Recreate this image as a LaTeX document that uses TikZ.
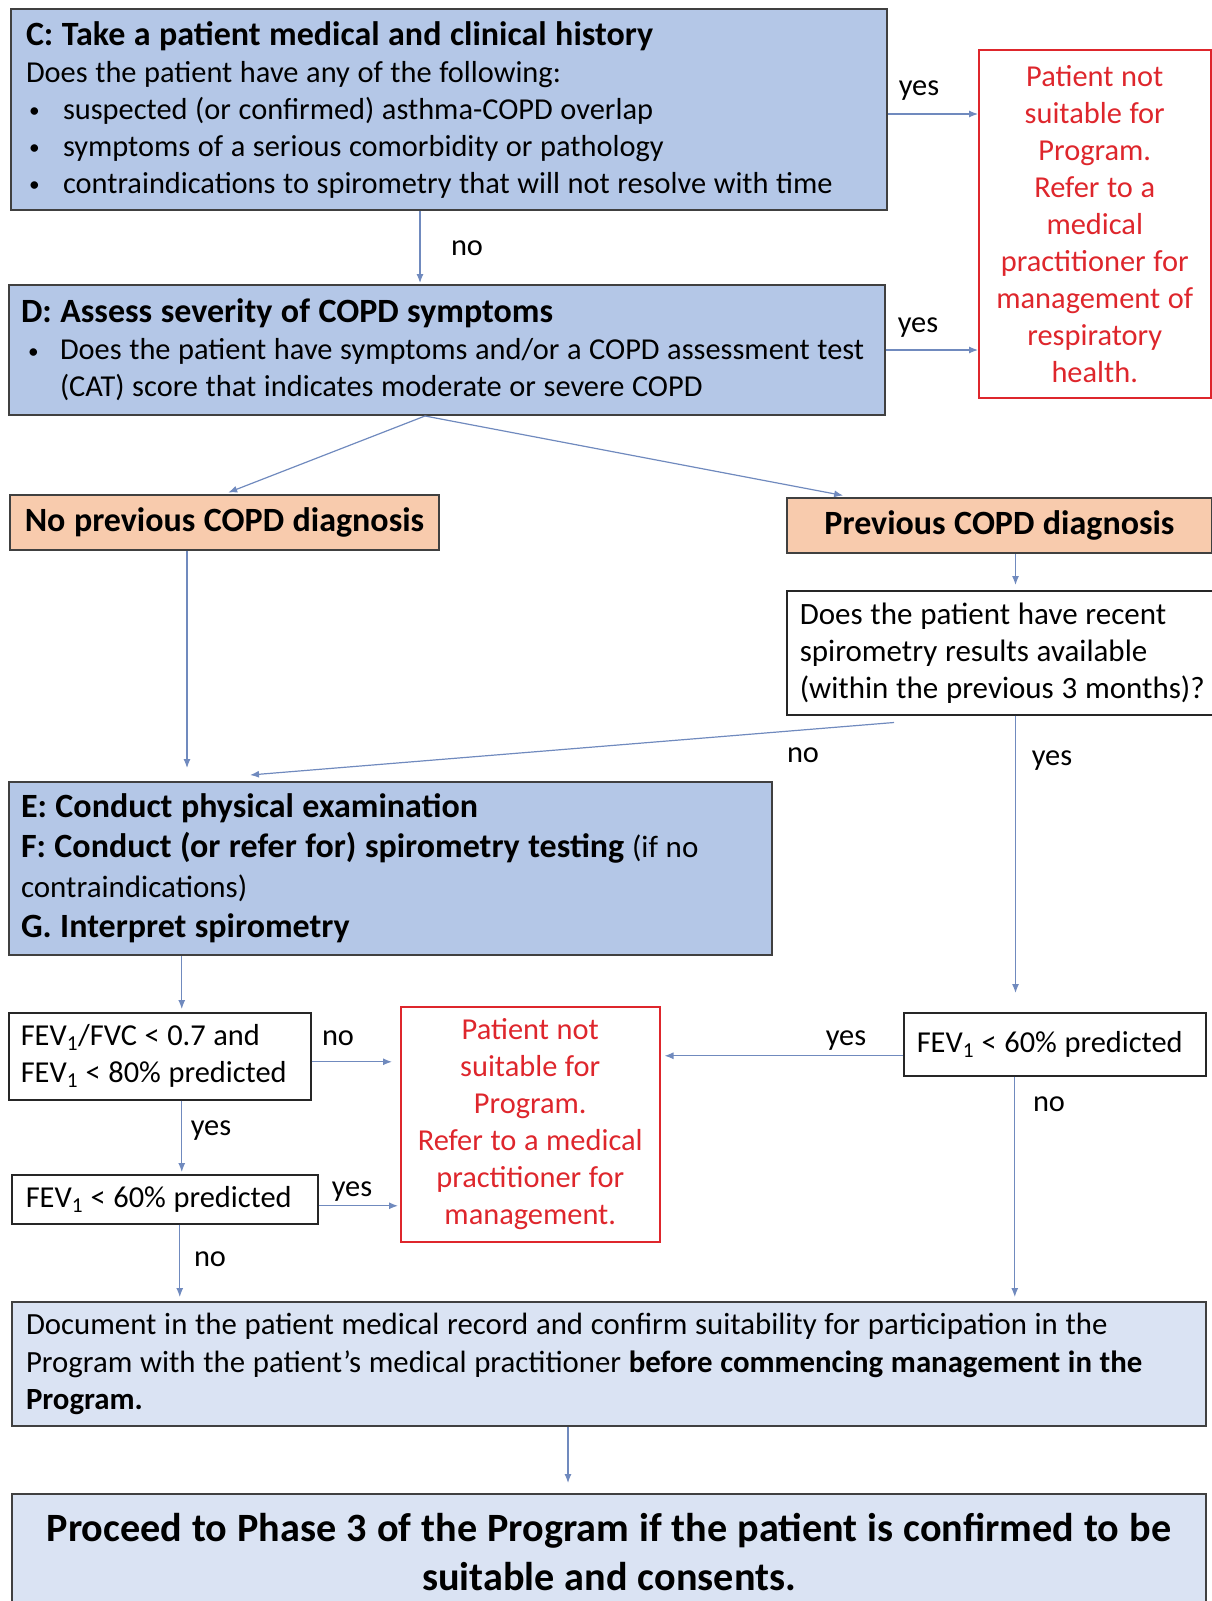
\documentclass[tikz,border=0pt]{standalone}
\usepackage{fontspec}
\setmainfont{Carlito}
\usepackage{graphicx}
\usepackage{tikz}
\usetikzlibrary{arrows.meta}

\definecolor{boxblue}{RGB}{180,199,231}
\definecolor{paleblue}{RGB}{218,227,243}
\definecolor{peach}{RGB}{248,203,173}
\definecolor{alertred}{RGB}{222,38,44}
\definecolor{linkblue}{RGB}{112,138,190}
\definecolor{edgegray}{RGB}{64,64,64}

\newcommand{\tightsp}{\spaceskip=0.25em\relax}
\newcommand{\blt}[2][3pt]{\makebox[#2][l]{\hspace{#1}\raisebox{1.5pt}{\scalebox{0.7}{\textbullet}}}}
\newcommand{\fev}{FEV\textsubscript{1}}
\newcommand{\stagehead}[1]{{\fontsize{34}{40}\selectfont\bfseries\tightsp #1}}

\tikzset{
  body/.style={font=\fontsize{30.4}{37}\selectfont, execute at begin node=\tightsp},
  stepbox/.style={body, draw=edgegray, line width=2pt, fill=boxblue, anchor=north west, inner ysep=0pt, align=left},
  diagbox/.style={draw=edgegray, line width=2pt, fill=peach, anchor=north west, inner sep=0pt, align=center, font=\fontsize{34}{40}\selectfont\bfseries, execute at begin node=\tightsp},
  askbox/.style={body, draw=black!85, line width=1.5pt, fill=white, anchor=north west, inner ysep=0pt, align=left},
  stopbox/.style={body, draw=alertred, line width=1.5pt, text=alertred, anchor=north west, inner sep=0pt, align=center},
  notebox/.style={body, draw=edgegray, line width=2pt, fill=paleblue, anchor=north west, inner ysep=0pt},
  lbl/.style={body, inner sep=0pt},
  link/.style={draw=linkblue, line width=1.2pt, ->}
}

\begin{document}
\begin{tikzpicture}[x=1pt, y=-1pt, >={Latex[length=9pt,width=7pt]}]
        \useasboundingbox (0,0) rectangle (1211,1601);

        \node [stepbox, inner xsep=15pt, text width=846pt, minimum height=201pt] (hist) at (10,8) {%
          \stagehead{C: Take a patient medical and clinical history}\\
          Does the patient have any of the following:\\
          \blt{37pt}suspected (or confirmed) asthma-COPD overlap\\
          \blt{37pt}symptoms of a serious comorbidity or pathology\\
          \blt{37pt}contraindications to spirometry that will not resolve with time};
        \node [stopbox, text width=232pt, minimum height=348pt] (unfit) at (978,49) {%
          Patient not\\ suitable for\\ Program.\\ Refer to a\\ medical\\ practitioner for\\ management of\\ respiratory\\ health.};
        \node [stepbox, inner xsep=12pt, text width=852pt, minimum height=130pt] (sev) at (8,284) {%
          \stagehead{D: Assess severity of COPD symptoms}\\
          \blt[7pt]{39pt}Does the patient have symptoms and/or a COPD assessment test\\
          \hspace*{39pt}(CAT) score that indicates moderate or severe COPD};

        \node [diagbox, text width=429pt, minimum height=55pt] (nodiag) at (9,494) {No previous COPD diagnosis};
        \node [diagbox, text width=425pt, minimum height=55pt] (prevdiag) at (786,497) {Previous COPD diagnosis};
        \node [askbox, inner xsep=13pt, text width=408pt, minimum height=124pt, font=\fontsize{31}{37}\selectfont] (recent) at (786,590) {%
          Does the patient have recent\\ spirometry results available\\ (within the previous 3 months)?};

        \node [stepbox, inner xsep=12pt, text width=739pt, minimum height=173pt, font=\fontsize{31}{40}\selectfont] (exam) at (8,781) {%
          \stagehead{E: Conduct physical examination}\\
          \stagehead{F: Conduct (or refer for) spirometry testing} (if no\\
          contraindications)\\
          \stagehead{G. Interpret spirometry}};

        \node [askbox, inner xsep=12pt, text width=278pt, minimum height=87pt] (ratio) at (8,1012) {%
          \fev/FVC < 0.7 and\\ \fev{} < 80\% predicted};
        \node [askbox, inner xsep=14pt, text width=278pt, minimum height=49pt] (lowa) at (11,1174) {\fev{} < 60\% predicted};
        \node [askbox, inner xsep=13pt, text width=276pt, minimum height=63pt] (lowb) at (903,1012) {\fev{} < 60\% predicted};
        \node [stopbox, text width=259pt, minimum height=235pt] (unfitb) at (400,1006) {%
          Patient not\\ suitable for\\ Program.\\ Refer to a medical\\ practitioner for\\ management.};

        \node [notebox, inner xsep=14pt, text width=1166pt, minimum height=124pt, align=left, font=\fontsize{30.8}{37.3}\selectfont] (record) at (11,1301) {%
          Document in the patient medical record and confirm suitability for participation in the\\
          Program with the patient’s medical practitioner \textbf{before commencing management in the}\\
          \textbf{Program.}};
        \node [notebox, inner sep=0pt, text width=1194pt, minimum height=116pt, align=center, font=\fontsize{40.2}{49}\selectfont\bfseries] (proceed) at (11,1493) {%
          Proceed to Phase 3 of the Program if the patient is confirmed to be\\ suitable and consents.};

        \draw [link] ([yshift=-4.5pt]hist.east) -- ([yshift=-4.5pt]hist.east -| unfit.west);
        \draw [link, shorten >=1pt] ([xshift=-29pt]hist.south) -- ([xshift=-29pt]hist.south |- sev.north);
        \draw [link] (sev.east) -- (sev.east -| unfit.west);
        \draw [link, shorten >=4pt] ([xshift=-22pt]sev.south) -- (nodiag.north);
        \draw [link, shorten >=8pt] ([xshift=-22pt]sev.south) -- ([xshift=65pt]prevdiag.north west);
        \draw [link, shorten >=5pt] ([xshift=16pt]prevdiag.south) -- ([xshift=16pt]prevdiag.south |- recent.north);
        \draw [link, shorten >=13pt] ([xshift=-37.5pt]nodiag.south) -- ([xshift=-37.5pt]nodiag.south |- exam.north);
        \draw [link] ([xshift=108pt, yshift=-7pt]recent.south west) -- ([xshift=242pt, yshift=6pt]exam.north west);
        \draw [link, shorten >=19pt] ([xshift=16pt]prevdiag.south |- recent.south) -- ([xshift=16pt]prevdiag.south |- lowb.north);
        \draw [link, shorten >=3pt] ([xshift=22pt]ratio.north |- exam.south) -- ([xshift=22pt]ratio.north);
        \draw [link, shorten >=8pt] ([yshift=-5.5pt]ratio.east) -- ([yshift=-5.5pt]ratio.east -| unfitb.west);
        \draw [link, shorten >=2pt] ([xshift=22pt]ratio.south) -- ([xshift=22pt]ratio.south |- lowa.north);
        \draw [link, shorten >=2pt] ([yshift=-6.5pt]lowa.east) -- ([yshift=-6.5pt]lowa.east -| unfitb.west);
        \draw [link, shorten >=4pt] ([xshift=15pt]lowa.south) -- ([xshift=15pt]lowa.south |- record.north);
        \draw [link, shorten >=4pt] ([yshift=-11.5pt]lowb.west) -- ([yshift=-11.5pt]lowb.west -| unfitb.east);
        \draw [link, shorten >=4pt] ([xshift=-40pt]lowb.south) -- ([xshift=-40pt]lowb.south |- record.north);
        \draw [link, shorten >=10pt] ([xshift=-41pt]record.south) -- ([xshift=-41pt]record.south |- proceed.north);

        \node [lbl] (yesc) at (919,91) {yes};
        \node [lbl] (noc) at (467,248) {no};
        \node [lbl] (yesd) at (918,328) {yes};
        \node [lbl] (norecent) at (803,755) {no};
        \node [lbl] (yesrecent) at (1052,761) {yes};
        \node [lbl] (noratio) at (338,1038) {no};
        \node [lbl] (yesratio) at (211,1131) {yes};
        \node [lbl] (yeslowa) at (352,1192) {yes};
        \node [lbl] (nolowa) at (210,1259) {no};
        \node [lbl] (yeslowb) at (846,1041) {yes};
        \node [lbl] (nolowb) at (1049,1104) {no};
      \end{tikzpicture}
\end{document}
